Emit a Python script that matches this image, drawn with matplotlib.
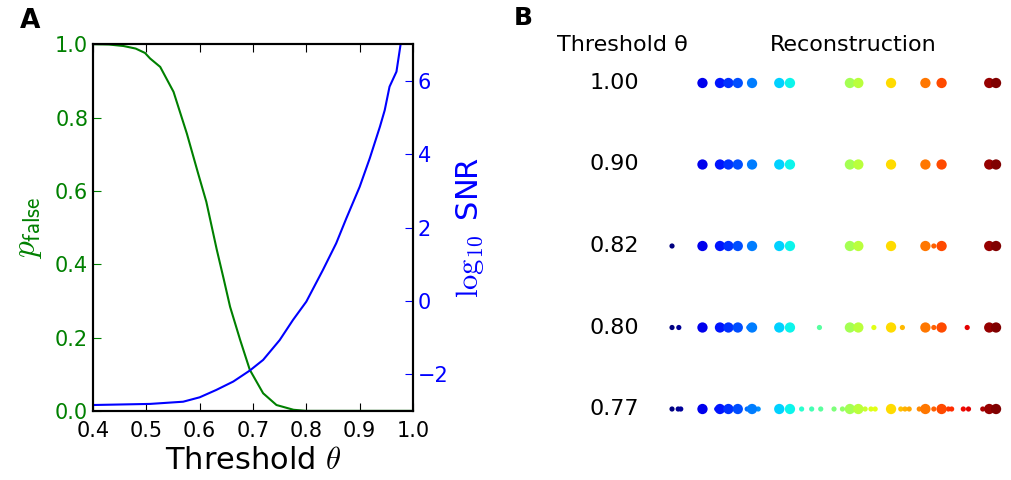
import matplotlib
matplotlib.use('Agg')
import matplotlib.pyplot as plt
import numpy as np

plt.rcParams['mathtext.fontset'] = 'cm'

# panel A: false-positive probability and SNR against threshold
theta_p = [0.40, 0.43, 0.457, 0.48, 0.4975, 0.507, 0.526, 0.551, 0.576, 0.597,
           0.6125, 0.62, 0.632, 0.645, 0.657, 0.676, 0.694, 0.719, 0.744, 0.776,
           0.80, 1.00]
p_false = [1.0, 0.999, 0.995, 0.988, 0.976, 0.961, 0.938, 0.870, 0.756, 0.648,
           0.57, 0.52, 0.44, 0.36, 0.284, 0.193, 0.112, 0.048, 0.016, 0.003,
           0.0, 0.0]

theta_s = [0.40, 0.507, 0.569, 0.60, 0.631, 0.663, 0.694, 0.719, 0.75, 0.775,
           0.80, 0.831, 0.856, 0.875, 0.90, 0.919, 0.938, 0.947, 0.956, 0.969, 0.977, 0.985]
log_snr = [-2.84, -2.81, -2.75, -2.63, -2.43, -2.20, -1.90, -1.61, -1.07, -0.52,
           -0.02, 0.84, 1.57, 2.25, 3.11, 3.89, 4.75, 5.20, 5.84, 6.25, 7.02, 7.6]

# panel B: reconstructed pattern positions (0..1) per threshold
thresholds = ['1.00', '0.90', '0.82', '0.80', '0.77']
big_pos = [0.094, 0.148, 0.174, 0.203, 0.247, 0.331, 0.364, 0.549, 0.575,
           0.676, 0.782, 0.832, 0.979, 1.000]
small_pos = [
    [],
    [],
    [0.0, 0.808],
    [0.0, 0.021, 0.237, 0.455, 0.623, 0.711, 0.808, 0.911],
    [0.0, 0.019, 0.027, 0.138, 0.232, 0.266, 0.400, 0.431, 0.459, 0.500, 0.526,
     0.596, 0.614, 0.627, 0.706, 0.719, 0.732, 0.763, 0.808, 0.853, 0.863,
     0.899, 0.915, 0.959],
]

fig = plt.figure(figsize=(10.11, 4.8), dpi=100)

ax = fig.add_axes([0.092, 0.144, 0.3165, 0.764])
ax.plot(theta_p, p_false, color='green', lw=1.5)
ax.set_xlim(0.4, 1.0)
ax.set_ylim(0, 1)
ax.set_xticks(np.arange(0.4, 1.01, 0.1))
ax.set_yticks(np.arange(0, 1.01, 0.2))
ax.set_xticklabels(['%.1f' % v for v in np.arange(0.4, 1.01, 0.1)])
ax.set_yticklabels(['%.1f' % v for v in np.arange(0, 1.01, 0.2)])
ax.tick_params(direction='in', length=6, top=True, labelsize=15)
ax.tick_params(axis='y', colors='green')
ax.tick_params(axis='x', pad=7)
ax.set_xlabel(r'Threshold $\theta$', fontsize=22)
ax.set_ylabel(r'$p_{\mathsf{false}}$', fontsize=24, color='green', labelpad=8)
for s in ax.spines.values():
    s.set_linewidth(1.5)

ax2 = ax.twinx()
ax2.plot(theta_s, log_snr, color='blue', lw=1.5)
ax2.set_ylim(-3, 7)
ax2.set_yticks([-2, 0, 2, 4, 6])
ax2.tick_params(direction='in', length=6, labelsize=15, colors='blue')
ax2.set_ylabel(r'$\log_{10}$ SNR', fontsize=22, color='blue', labelpad=4)
for s in ax2.spines.values():
    s.set_linewidth(1.5)

fig.text(0.030, 0.957, 'A', fontsize=19, fontweight='bold', ha='center', va='center')
fig.text(0.518, 0.963, 'B', fontsize=18, fontweight='bold', ha='center', va='center')

bx = fig.add_axes([0.6647, 0.063, 0.3205, 0.849])
bx.set_xlim(0, 1)
bx.set_ylim(4.5, -0.5)
bx.axis('off')
cmap = plt.get_cmap('jet')
for i, th in enumerate(thresholds):
    bx.scatter(big_pos, [i] * len(big_pos), s=55, c=cmap(np.array(big_pos)),
               edgecolors='none', clip_on=False, zorder=3)
    if small_pos[i]:
        sp = np.array(small_pos[i])
        bx.scatter(sp, [i] * len(sp), s=14, c=cmap(sp), edgecolors='none',
                   clip_on=False, zorder=2)
    bx.text(-0.179, i, th, fontsize=16, ha='center', va='center')
bx.text(-0.154, -0.47, 'Threshold θ', fontsize=16, ha='center', va='center')
bx.text(0.559, -0.47, 'Reconstruction', fontsize=16, ha='center', va='center')

fig.savefig('out.png', dpi=100)
